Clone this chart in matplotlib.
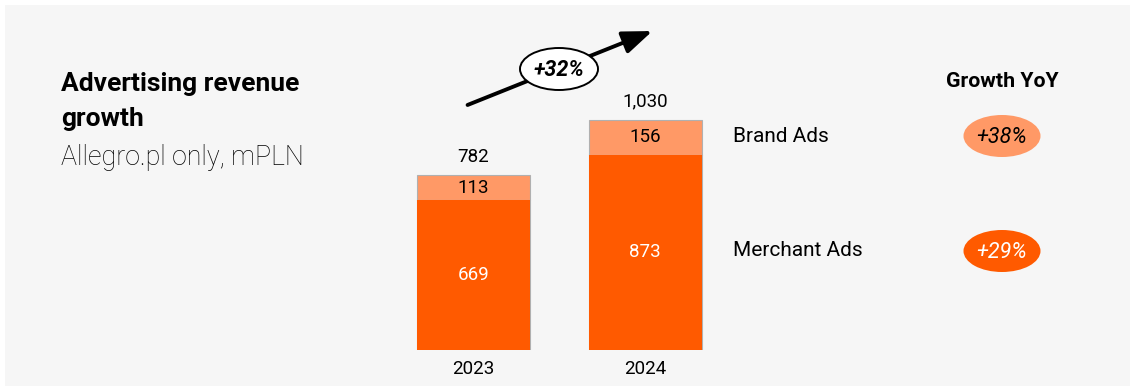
import numpy as np
import matplotlib
matplotlib.use("Agg")
import matplotlib.pyplot as plt
from matplotlib.patches import Ellipse, Rectangle, FancyArrowPatch

plt.rcParams['font.family'] = ['Roboto', 'DejaVu Sans']

years = ['2023', '2024']
merchant = [669, 873]
brand = [113, 156]
totals = ['782', '1,030']
segments = ['Brand Ads', 'Merchant Ads']
growth = ['+38%', '+29%']
total_growth = '+32%'

dark = '#ff5a00'
light = '#ff9966'

fig = plt.figure(figsize=(11.35, 3.89), dpi=100, facecolor='white')

# overlay in pixel coords for the panel and annotations
ov = fig.add_axes([0, 0, 1, 1], zorder=0)
ov.set_xlim(0, 1135)
ov.set_ylim(389, 0)
ov.axis('off')
ov.add_patch(Rectangle((5, 5), 1125, 381, facecolor='#f6f6f6', edgecolor='none'))

ov.text(61, 84, 'Advertising revenue', fontsize=19, fontweight='bold', va='center', ha='left')
ov.text(61, 119, 'growth', fontsize=19, fontweight='bold', va='center', ha='left')
ov.text(61, 157, 'Allegro.pl only, mPLN', fontsize=19.3, fontweight='light',
        va='center', ha='left')

# arrow with total growth
arr = FancyArrowPatch((465, 106), (655, 30), arrowstyle='-|>,head_length=0.6,head_width=0.23',
                      mutation_scale=30, color='black', lw=2.8, zorder=2)
ov.add_patch(arr)
ov.add_patch(Ellipse((559, 69), 78, 42, facecolor='white', edgecolor='black', lw=1.4, zorder=3))
ov.text(559, 70, total_growth, fontsize=15.5, fontweight='bold', fontstyle='italic',
        ha='center', va='center', zorder=4)

# segment labels and growth bubbles
seg_y = [136, 251]
ov.text(1002, 81, 'Growth YoY', fontsize=15.3, fontweight='bold', ha='center', va='center')
for name, g, y, c, tc in zip(segments, growth, seg_y, [light, dark], ['black', 'white']):
    ov.text(733, y, name, fontsize=15, ha='left', va='center')
    ov.add_patch(Ellipse((1002, y), 77, 42, facecolor=c, edgecolor='none'))
    ov.text(1002, y + 1, g, fontsize=15.5, fontstyle='italic', color=tc, ha='center', va='center')

# bars
ax = fig.add_axes([400 / 1135, 39 / 389, 320 / 1135, 345 / 389], zorder=1)
ax.patch.set_alpha(0)
x = np.arange(len(years))
w = 0.659
ax.bar(x, merchant, width=w, color=dark, edgecolor='#b0b0b0', linewidth=0.8)
ax.bar(x, brand, width=w, bottom=merchant, color=light, edgecolor='#b0b0b0', linewidth=0.8)
ax.bar(x, merchant, width=w, color=dark, edgecolor='none')
ax.set_xlim(-0.4286, 1.437)
ax.set_ylim(0, 345 / 0.2238)
ax.axis('off')

for i in range(len(years)):
    ax.text(x[i], merchant[i] / 2, str(merchant[i]), color='white', fontsize=13.5,
            ha='center', va='center')
    ax.text(x[i], merchant[i] + brand[i] / 2, str(brand[i]), color='black', fontsize=13.5,
            ha='center', va='center')
    ax.annotate(totals[i], (x[i], merchant[i] + brand[i]), xytext=(0, 13),
                textcoords='offset points', ha='center', va='center', fontsize=13.5)
    ax.annotate(years[i], (x[i], 0), xytext=(0, -14), textcoords='offset points',
                ha='center', va='center', fontsize=13.5)

fig.savefig('out.png', dpi=100, facecolor='white')
